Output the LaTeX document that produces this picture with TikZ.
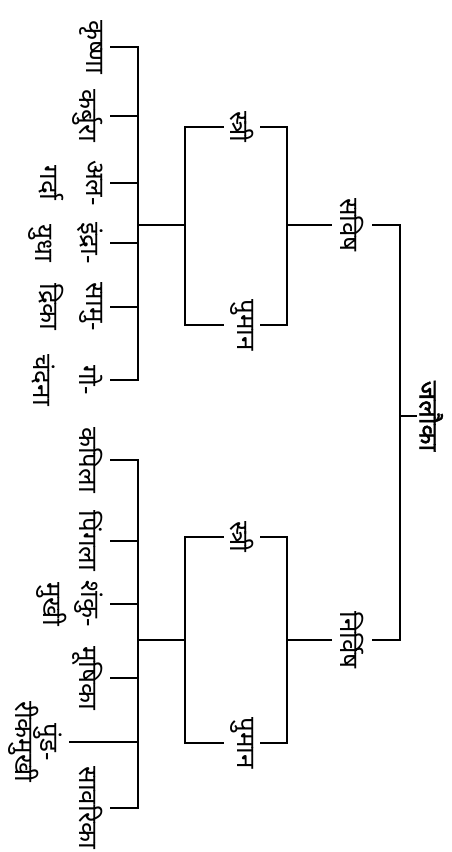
\documentclass[tikz,border=0pt]{standalone}
\usepackage{fontspec}
\newfontfamily\deva[Script=Devanagari]{Noto Sans}
\newfontfamily\devabold[Script=Devanagari,FakeBold=1.6]{Noto Sans}
\usetikzlibrary{positioning}
\tikzset{
  term/.style={rotate=-90,font=\deva\fontsize{26}{46}\selectfont,align=center,inner sep=4pt},
  leafbox/.style={term,anchor=north,inner sep=7pt},
  sexbox/.style={term,inner sep=6pt},
  groupbox/.style={term,inner sep=8pt},
  rootbox/.style={term,font=\devabold\fontsize{26}{46}\selectfont,anchor=south,inner sep=2pt},
  tree/.style={line width=1.4pt,draw=black}
}

\begin{document}
\begin{tikzpicture}[x=1pt,y=-1pt]
    \useasboundingbox (0,0) rectangle (452,852);

    \node[rootbox] (root) at (417,416) {जलौका};
    \node[groupbox] (sav) at (352,225) {सविष};
    \node[groupbox] (nir) at (352,640) {निर्विष};

    \node[sexbox] (s1) at (242,127) {स्त्री};
    \node[sexbox] (p1) at (242,325) {पुमान};
    \node[sexbox] (s2) at (242,537) {स्त्री};
    \node[sexbox] (p2) at (242,743) {पुमान};

    \node[leafbox] (k1) at (110,47) {कृष्णा};
    \node[leafbox] (k2) at (110,116) {कर्बुरा};
    \node[leafbox] (k3) at (110,183) {अल-\\गर्दा};
    \node[leafbox] (k4) at (110,243) {इंद्रा-\\युधा};
    \node[leafbox] (k5) at (110,307) {सामु-\\द्रिका};
    \node[leafbox] (k6) at (110,380) {गो-\\चंदना};

    \node[leafbox] (n1) at (110,460) {कपिला};
    \node[leafbox] (n2) at (110,541) {पिंगला};
    \node[leafbox] (n3) at (110,604) {शंकु-\\[-8pt]मुखी};
    \node[leafbox] (n4) at (110,678) {मूषिका};
    \node[leafbox] (n5) at (69,742) {पुंड-\\[-21pt]रीकमुखी};
    \node[leafbox] (n6) at (110,808) {सावरिका};

    \coordinate (jspine) at (400,416);
    \coordinate (sspine) at (287,225);
    \coordinate (sleft) at (185,225);
    \coordinate (slsp) at (138,225);
    \coordinate (nspine) at (287,640);
    \coordinate (nleft) at (185,640);
    \coordinate (nlsp) at (138,640);

    \draw[tree] (sav.north) -| (jspine) |- (nir.north);
    \draw[tree] (jspine) -- (root.south);

    \draw[tree] (s1.north) -| (sspine) |- (p1.north);
    \draw[tree] (sav.south) -- (sspine);
    \draw[tree] (s1.south) -| (sleft) |- (p1.south);
    \draw[tree] (sleft) -- (slsp);
    \draw[tree] (k1.north) -| (slsp) |- (k6.north);
    \foreach \k in {k2,k3,k4,k5}
      \draw[tree] (\k.north) -- (\k.north -| slsp);

    \draw[tree] (s2.north) -| (nspine) |- (p2.north);
    \draw[tree] (nir.south) -- (nspine);
    \draw[tree] (s2.south) -| (nleft) |- (p2.south);
    \draw[tree] (nleft) -- (nlsp);
    \draw[tree] (n1.north) -| (nlsp) |- (n6.north);
    \foreach \k in {n2,n3,n4,n5}
      \draw[tree] (\k.north) -- (\k.north -| nlsp);
\end{tikzpicture}
\end{document}
